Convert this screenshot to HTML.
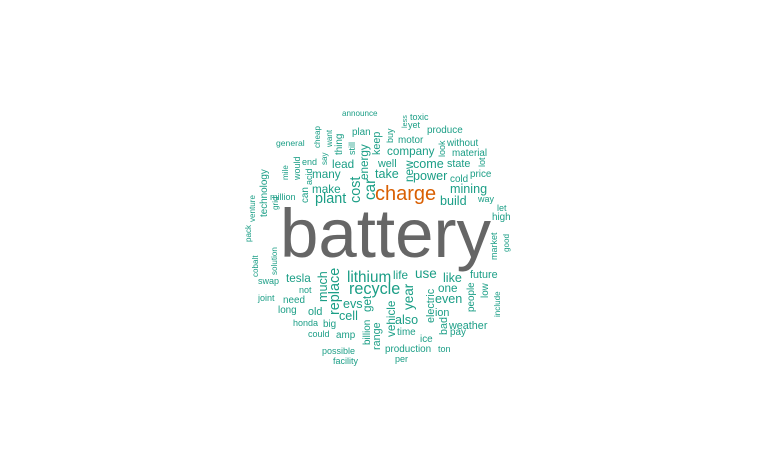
<!DOCTYPE html>
<html><head><meta charset="utf-8"><style>
html,body{margin:0;padding:0;background:#fff;width:770px;height:475px;overflow:hidden}
svg text{font-family:"Liberation Sans",Arial,sans-serif}
</style></head><body>
<svg id="wc" width="770" height="475" viewBox="0 0 770 475" xmlns="http://www.w3.org/2000/svg"></svg>
<script>
// word, font size (proportional to frequency), layout x, layout y, vertical flag
const words = ["battery","charge","announce","general","cheap","want","thing","plan","keep","still","say","end","mile","would","lead","energy","acid","many","car","cost","can","make","plant","million","technology","grid","venture","less","toxic","yet","produce","buy","motor","look","without","company","material","well","new","come","state","lot","take","power","cold","price","mining","build","way","let","high","market","good","cobalt","solution","pack","swap","tesla","not","much","replace","lithium","recycle","joint","need","long","old","evs","get","cell","honda","big","could","amp","billion","range","possible","facility","life","use","like","future","year","one","people","low","include","vehicle","electric","even","ion","also","time","bad","weather","pay","ice","production","ton","per"];
const sizes = [69,20,9,9.5,9,9,11,11,12,10,9,10,9,10,13,13,10,13,17,16,11,13,16,10,11,9,9,8,10,10,11,10,11,10,11,13,11,12,13,14,12,10,14,14,11,11,14,14,10,10,11,10,9,9,9,9,10,13,10,14,16,17,18,10,11,11,12,14,13,14,10,11,10,11,11,12,10,10,13,15,14,12,15,13,11,11,9,13,12,14,12,14,11,12,12,11,11,11,10,10];
const xs = [280,375,342,276,320,332,342,352,380,355,327,302,288,300,332,368,312,312,375,360,308,312,315,270,267,278,255,407,410,408,427,393,398,445,447,387,452,378,413,413,447,485,375,413,450,470,450,440,478,497,492,497,509,258,277,251,258,286,299,327,339,347,349,258,283,278,308,343,371,339,293,323,308,336,370,380,322,333,393,415,443,470,413,438,474,488,500,395,434,435,435,395,397,447,449,450,420,385,438,395];
const ys = [257,200,116,146,148,147,155,135,155,155,165,165,180,180,168,180,185,178,200,203,203,193,203,200,217,210,222,128,120,128,133,143,143,157,146,155,156,167,182,168,167,167,178,180,182,177,193,205,202,211,220,260,252,277,275,242,284,282,293,302,315,282,294,301,303,313,315,308,312,320,326,327,337,338,345,350,354,364,279,278,282,278,310,292,312,298,317,337,323,303,316,324,335,335,329,335,342,352,352,362];
const vert = [0,0,0,0,1,1,1,0,1,1,1,0,1,1,0,1,1,0,1,1,1,0,0,0,1,1,1,1,0,0,0,1,0,1,0,0,0,0,1,0,0,1,0,0,0,0,0,0,0,0,0,1,1,1,1,1,0,0,0,1,1,0,0,0,0,0,0,0,1,0,0,0,0,0,1,1,0,0,0,0,0,0,1,0,1,1,1,1,1,0,0,0,0,1,0,0,0,0,0,0];
const svg = document.getElementById('wc');
for (let i = 0; i < words.length; i++) {
  const t = document.createElementNS('http://www.w3.org/2000/svg','text');
  
  
  t.setAttribute('x', xs[i]);
  t.setAttribute('y', ys[i]);
  t.setAttribute('font-size', i < 2 ? sizes[i] : (sizes[i] * 0.9).toFixed(1));
  t.setAttribute('fill', i === 0 ? '#666666' : (i === 1 ? '#D95F02' : '#1B9E86'));
  if (vert[i]) t.setAttribute('transform', 'rotate(-90 ' + xs[i] + ' ' + ys[i] + ')');
  t.textContent = words[i];
  svg.appendChild(t);
}
</script>
</body></html>
